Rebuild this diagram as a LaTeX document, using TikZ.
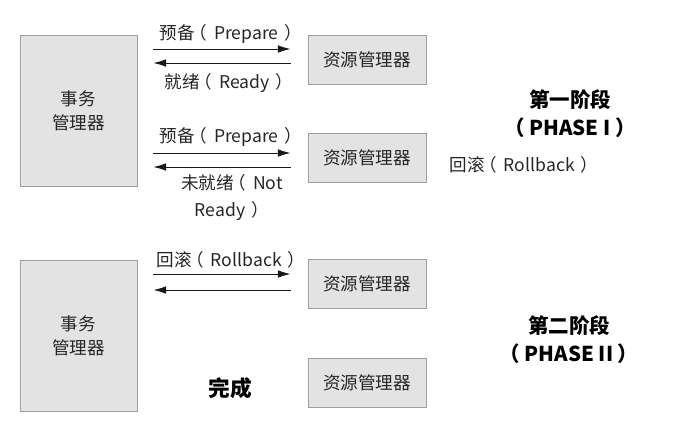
\documentclass[tikz,border=0pt]{standalone}
\usepackage{fontspec}
\setmainfont{Noto Sans CJK SC}
\usetikzlibrary{calc,arrows.meta}
\newcommand{\lpar}{\hspace{-0.3em}（\hspace{0.4em}}
\newcommand{\rpar}{\hspace{0.35em}）}
\begin{document}
\begin{tikzpicture}[
    x=0.03cm, y=-0.03cm,
    font=\fontsize{15}{20.5}\selectfont,
    box/.style={draw=gray!75, fill=gray!22, line width=0.8pt, text=black!85, align=center, inner sep=0pt},
    tmbox/.style={box, minimum width=3.51cm, minimum height=4.53cm},
    rmbox/.style={box, minimum width=3.54cm, minimum height=1.47cm},
    msg/.style={-{Latex[length=3.8mm,width=2.3mm]}, line width=0.8pt, black!90},
    lbl/.style={text=black!85, align=center, inner sep=0pt},
    phase/.style={font=\fontsize{17.5}{24}\selectfont\bfseries, align=center, inner sep=0pt}
  ]
  \useasboundingbox (0,0) rectangle (677,429);
  % phase I
  \node[tmbox] (tm1) at (78.5,110.5) {事务\\管理器};
  \node[rmbox] (rm1) at (367,59.5) {资源管理器};
  \node[rmbox] (rm2) at (367,157.5) {资源管理器};
  \draw[msg] ($(tm1.east|-rm1.west)+(16,-10.5)$) -- ($(rm1.west)+(-17,-10.5)$);
  \draw[msg] ($(rm1.west)+(-17,3.5)$) -- ($(tm1.east|-rm1.west)+(16,3.5)$);
  \draw[msg] ($(tm1.east|-rm2.west)+(16,-4.5)$) -- ($(rm2.west)+(-17,-4.5)$);
  \draw[msg] ($(rm2.west)+(-17,9.5)$) -- ($(tm1.east|-rm2.west)+(16,9.5)$);
  \node[lbl] (prep1) at (231,34) {预备\lpar Prepare\rpar};
  \node[lbl] (ready) at (229,83) {就绪\lpar Ready\rpar};
  \node[lbl] (prep2) at (231,137) {预备\lpar Prepare\rpar};
  \node[lbl, font=\fontsize{15}{23}\selectfont] (notready) at (232,197.5) {未就绪\lpar Not\\Ready\rpar};
  \node[phase] (ph1) at (570,114) {第一阶段\\（ PHASE I ）};
  \node[lbl] (rb1) at (524,165) {回滚\lpar Rollback\rpar};
  % phase II
  \node[tmbox] (tm2) at (78.5,336) {事务\\管理器};
  \node[rmbox] (rm3) at (367,284) {资源管理器};
  \node[rmbox] (rm4) at (367,382.5) {资源管理器};
  \draw[msg] ($(tm2.east|-rm3.west)+(16,-10)$) -- ($(rm3.west)+(-17,-10)$);
  \draw[msg] ($(rm3.west)+(-17,6)$) -- ($(tm2.east|-rm3.west)+(16,6)$);
  \node[lbl] (rb2) at (231,260) {回滚\lpar Rollback\rpar};
  \node[phase, font=\fontsize{18.5}{22}\selectfont\bfseries] (done) at (230,388) {完成};
  \node[phase] (ph2) at (569,339.5) {第二阶段\\（ PHASE II ）};
\end{tikzpicture}
\end{document}
